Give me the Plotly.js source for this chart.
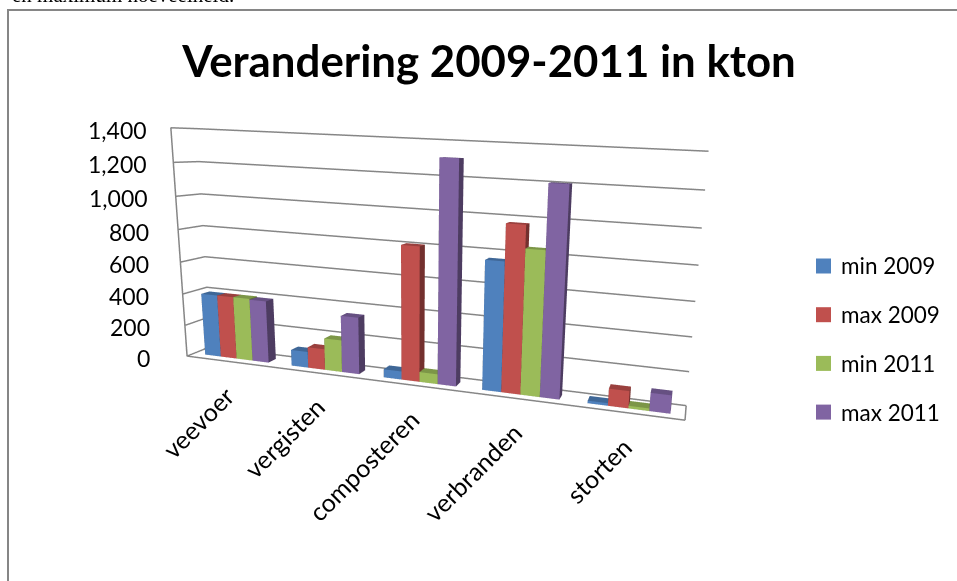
<!DOCTYPE html>
<html><head><meta charset="utf-8"><script src="https://cdn.plot.ly/plotly-3.0.1.min.js"></script>
<style>html,body{margin:0;padding:0;background:#fff}#c{width:957px;height:581px}</style></head>
<body><div id="c"></div>
<script>
const categories=['veevoer','vergisten','composteren','verbranden','storten'];
const seriesNames=['min 2009','max 2009','min 2011','max 2011'];
const min2009=[395,100,50,760,15];
const max2009=[395,130,805,970,100];
const min2011=[395,198,60,840,15];
const max2011=[390,350,1305,1200,105];
const zTicks=[0,200,400,600,800,1000,1200,1400];
const frontColors=['#4F81BD','#C0504D','#9BBB59','#8064A2'];
const topColors=['#3F6797','#9A403E','#7C9647','#665082'];
const sideColors=['#2F4D71','#73302E','#5D7035','#4D3C61'];
const values=[min2009,max2009,min2011,max2011];

const traces=[];
values.forEach((vals,s)=>{
  const xs=[],ys=[],zs=[],I=[],J=[],K=[],fc=[];
  vals.forEach((v,c)=>{
    const x0=c+0.13+s*0.185,x1=x0+0.185,y0=0.3,y1=0.65,n=xs.length;
    [[x0,y0,0],[x1,y0,0],[x1,y1,0],[x0,y1,0],[x0,y0,v],[x1,y0,v],[x1,y1,v],[x0,y1,v]].forEach(q=>{xs.push(q[0]);ys.push(q[1]);zs.push(q[2]);});
    const faces=[[[0,1,5],[0,5,4],frontColors],[[4,5,6],[4,6,7],topColors],[[1,2,6],[1,6,5],sideColors],[[3,0,4],[3,4,7],sideColors],[[2,3,7],[2,7,6],sideColors],[[0,1,2],[0,2,3],sideColors]];
    faces.forEach(g=>{[g[0],g[1]].forEach(t=>{I.push(n+t[0]);J.push(n+t[1]);K.push(n+t[2]);fc.push(g[2][s]);});});
  });
  traces.push({type:'mesh3d',name:seriesNames[s],x:xs,y:ys,z:zs,i:I,j:J,k:K,facecolor:fc,flatshading:true,
    lighting:{ambient:1,diffuse:0,specular:0,roughness:1,fresnel:0},hoverinfo:'name+z',showscale:false});
});
traces.push({type:'scatter3d',mode:'lines',x:[0,0,0],y:[0,0,1],z:[0,1400,1400],line:{color:'#868686',width:3},hoverinfo:'skip',showlegend:false});

const font='Lato, Liberation Sans, sans-serif';
const sceneAnn=[];
zTicks.forEach(v=>sceneAnn.push({x:0,y:0,z:v,text:v.toLocaleString('en-US'),showarrow:false,xanchor:'right',yanchor:'middle',yshift:-2,xshift:-(35-13*v/1400),font:{family:font,size:23,color:'#000'}}));
categories.forEach((c,i)=>sceneAnn.push({x:i+0.5,y:0,z:0,text:c,showarrow:false,textangle:-45,xanchor:'right',yanchor:'top',yshift:-16,xshift:13,font:{family:font,size:25,color:'#000'}}));

const W=957,H=581,px=x=>x/W,py=y=>1-y/H;
const shapes=[{type:'rect',xref:'paper',yref:'paper',x0:px(8),x1:px(965),y0:py(10),y1:py(595),line:{color:'#868686',width:2},fillcolor:'rgba(0,0,0,0)'}];
const anns=[{xref:'paper',yref:'paper',x:px(10),y:py(9),xanchor:'left',yanchor:'bottom',showarrow:false,text:'en maximum hoeveelheid.',font:{family:'Liberation Serif, serif',size:21,color:'#000'}}];
seriesNames.forEach((n,i)=>{
  const yc=266+i*48.7;
  shapes.push({type:'rect',xref:'paper',yref:'paper',x0:px(816),x1:px(831),y0:py(yc-7.5),y1:py(yc+7.5),fillcolor:frontColors[i],line:{width:0}});
  anns.push({xref:'paper',yref:'paper',x:px(839),y:py(yc),xanchor:'left',yanchor:'middle',showarrow:false,text:n,font:{family:font,size:22.5,color:'#000'}});
});

const axis={showticklabels:false,title:{text:''},showgrid:false,zeroline:false,showline:true,linecolor:'#868686',linewidth:3,showbackground:false,ticks:'',showspikes:false};
const layout={width:W,height:H,margin:{l:0,r:0,t:0,b:0},paper_bgcolor:'#fff',showlegend:false,shapes,annotations:anns,
 title:{text:'<b>Verandering 2009-2011 in kton</b>',font:{family:font,size:43.8,color:'#000'},x:0.511,xanchor:'center',y:0.893,yanchor:'middle'},
 scene:{dragmode:'orbit',domain:{x:[px(143),1],y:[py(550.93),1]},aspectmode:'manual',aspectratio:{x:1.2535,y:0.0843,z:0.5710},annotations:sceneAnn,
  camera:{eye:{x:0.6207,y:-1.4234,z:0.2961},center:{x:0.3261,y:-0.0935,z:0.0175},up:{x:-0.0427,y:0,z:1},projection:{type:'perspective'}},
  xaxis:Object.assign({},axis,{range:[0,5]}),
  yaxis:Object.assign({},axis,{range:[0,1]}),
  zaxis:Object.assign({},axis,{range:[0,1400],dtick:200,showgrid:true,gridcolor:'#868686',gridwidth:3})}};
Plotly.newPlot('c',traces,layout,{displayModeBar:false});
</script></body></html>
